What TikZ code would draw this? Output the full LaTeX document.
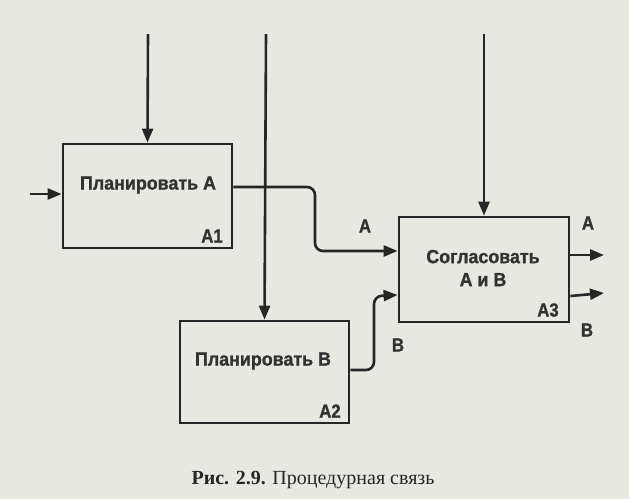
\documentclass[tikz,border=0pt]{standalone}
\usepackage{fontspec}
\setmainfont{Liberation Serif}
\newfontfamily\boxfont[FakeStretch=0.94,FakeBold=1.2]{Liberation Sans}
\newfontfamily\lblfont[FakeStretch=0.88,FakeBold=1.2]{Liberation Sans}
\usetikzlibrary{arrows.meta}
\definecolor{paper}{RGB}{232,232,227}
\definecolor{ink}{RGB}{38,38,38}
\definecolor{tink}{RGB}{50,50,50}
\begin{document}
\begin{tikzpicture}[x=1pt,y=-1pt,
  box/.style={draw=ink,line width=2.8pt,minimum width=#1,inner sep=0pt},
  box/.default={169pt},
  txt/.style={text=tink,font=\boxfont\bfseries\fontsize{19}{23}\selectfont,align=center,inner sep=0pt},
  lbl/.style={text=tink,font=\lblfont\bfseries\fontsize{19}{22}\selectfont,inner sep=0pt},
  conn/.style={draw=ink,line width=2.6pt,-{Triangle[length=14pt,width=11pt]},rounded corners=8pt}]
\fill[paper] (0,0) rectangle (629,499);
\useasboundingbox (0,0) rectangle (629,499);
% boxes
\node[box, minimum height=104pt] (A1) at (147.5,196) {};
\node[box=170pt, minimum height=105pt] (A3) at (484,269.5) {};
\node[box, minimum height=102pt] (A2) at (264.5,372) {};
% box texts
\node[txt] (t1) at (148,185) {Планировать А};
\node[txt] (t3) at (483,268) {Согласовать\\А и В};
\node[txt] (t2) at (263,361) {Планировать В};
\node[lbl] (n1) at (212,236) {A1};
\node[lbl] (n3) at (548,310) {A3};
\node[lbl] (n2) at (330,411) {A2};
% free ends
\coordinate (c1) at (148,34);
\coordinate (c2) at (266,34);
\coordinate (c3) at (484,34);
\coordinate (in1) at (30,194);
\coordinate (oA) at (604,255);
\coordinate (oB) at (604,293);
% connectors
\draw[conn] (c1) -- (A1.north);
\draw[conn] (c2) -- (A2.north);
\draw[conn] (c3) -- (A3.north);
\draw[conn] (in1) -- (A1.west |- in1);
\draw[conn] (A1.east |- 0,187) -- (315,187) -- (315,251) -- (A3.west |- 0,251);
\draw[conn] (A2.east |- 0,370) -- (374,370) -- (374,296) -- (A3.west |- 0,295);
\draw[conn] (A3.east |- oA) -- (oA);
\draw[conn] (A3.east |- 0,296) -- (oB);
% connector labels
\node[lbl] (lA) at (365,226) {А};
\node[lbl] (lB) at (398,345) {В};
\node[lbl] (lA2) at (588,223) {А};
\node[lbl] (lB2) at (587,330) {В};
% caption
\node[text=ink,font=\fontsize{20}{23}\selectfont,inner sep=0pt] (cap) at (313,480) {\textbf{Рис. 2.9.} Процедурная связь};
\end{tikzpicture}
\end{document}
